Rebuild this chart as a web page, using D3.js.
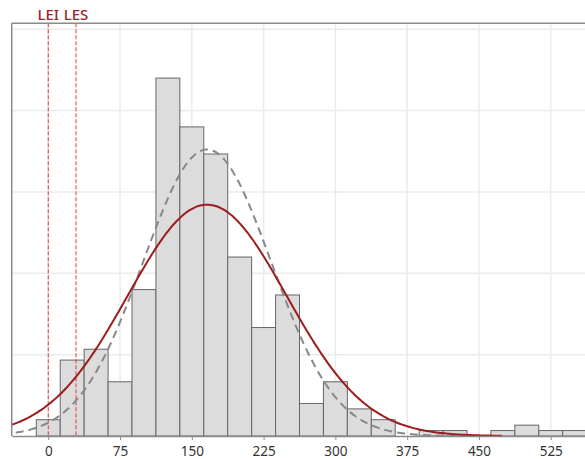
<!DOCTYPE html>
<html>
<head>
    <title>Capability histogram</title>
    <script src="https://d3js.org/d3.v7.min.js"></script>
    <style>
        body { margin: 0; background: #fff; }
        #chart { display: block; }
    </style>
</head>
<body>
    <svg id="chart"></svg>
    <script>
        // bins are 25 wide, first one centred on 0
        const binStart = -12.5;
        const binWidth = 25;
        const counts = [3, 14, 16, 10, 27, 66, 57, 52, 33, 20, 26, 6, 10, 5, 3, 0, 1, 1, 0, 1, 2, 1, 1];

        // spec limits
        const specNames = ["LEI", "LES"];
        const specValues = [0, 29];

        // fitted normals
        const fitMean = 166;
        const sigmaOverall = 83;
        const sigmaWithin = 67;

        const xTicks = [0, 75, 150, 225, 300, 375, 450, 525];
        const yGrid = [15, 30, 45, 60, 75];

        const width = 585;
        const height = 459;

        const svg = d3.select("#chart")
            .attr("width", width)
            .attr("height", height)
            .style("font-family", "'Noto Sans', 'Open Sans', sans-serif");

        const x = d3.scaleLinear().domain([-38.2, 560.8]).range([11.7, 585]);
        const y = d3.scaleLinear().domain([0, 76.1]).range([436, 23.3]);

        const bins = counts.map((c, i) => ({ x0: binStart + i * binWidth, x1: binStart + (i + 1) * binWidth, n: c }));
        const total = d3.sum(counts);

        // gridlines
        svg.append("g")
            .selectAll("line")
            .data(xTicks)
            .join("line")
            .attr("x1", d => x(d)).attr("x2", d => x(d))
            .attr("y1", y.range()[1]).attr("y2", y.range()[0])
            .attr("stroke", "#ebebeb")
            .attr("stroke-width", 1.5);

        svg.append("g")
            .selectAll("line")
            .data(yGrid)
            .join("line")
            .attr("x1", x.range()[0]).attr("x2", width)
            .attr("y1", d => y(d)).attr("y2", d => y(d))
            .attr("stroke", "#ebebeb")
            .attr("stroke-width", 1.5);

        // histogram bars
        svg.append("g")
            .selectAll("rect")
            .data(bins.filter(b => b.n > 0))
            .join("rect")
            .attr("x", d => x(d.x0))
            .attr("width", d => x(d.x1) - x(d.x0))
            .attr("y", d => y(d.n))
            .attr("height", d => y(0) - y(d.n))
            .attr("fill", "#dcdcdc")
            .attr("stroke", "#666")
            .attr("stroke-width", 1);

        // spec limit lines + labels
        const spec = svg.append("g")
            .selectAll("g")
            .data(specNames.map((s, i) => ({ name: s, value: specValues[i] })))
            .join("g");

        spec.append("line")
            .attr("x1", d => x(d.value)).attr("x2", d => x(d.value))
            .attr("y1", y.range()[1]).attr("y2", y(0))
            .attr("stroke", "#e0393e")
            .attr("stroke-width", 1)
            .attr("stroke-dasharray", "4,2");

        spec.append("text")
            .attr("x", d => x(d.value))
            .attr("y", 20)
            .attr("text-anchor", "middle")
            .attr("fill", "#a3222c")
            .attr("font-size", 15)
            .attr("font-weight", 500)
            .text(d => d.name);

        // normal curves scaled to counts
        function normalCurve(sigma, from, to) {
            const scale = total * binWidth / (sigma * Math.sqrt(2 * Math.PI));
            return d3.range(from, to + 0.01, 2).map(v => [v, scale * Math.exp(-0.5 * ((v - fitMean) / sigma) ** 2)]);
        }

        const line = d3.line()
            .x(d => x(d[0]))
            .y(d => y(d[1]))
            .curve(d3.curveBasis);

        svg.append("path")
            .datum(normalCurve(sigmaWithin, -34, 474))
            .attr("d", line)
            .attr("fill", "none")
            .attr("stroke", "#888")
            .attr("stroke-width", 2)
            .attr("stroke-dasharray", "8,5");

        svg.append("path")
            .datum(normalCurve(sigmaOverall, -38.2, 474))
            .attr("d", line)
            .attr("fill", "none")
            .attr("stroke", "#9c1c20")
            .attr("stroke-width", 2);

        // frame: top, left, bottom axis
        const frame = svg.append("g").attr("stroke", "#8a8a8a").attr("stroke-width", 1.5);
        frame.append("line").attr("x1", x.range()[0]).attr("x2", width).attr("y1", y.range()[1]).attr("y2", y.range()[1]);
        frame.append("line").attr("x1", x.range()[0]).attr("x2", x.range()[0]).attr("y1", y.range()[1]).attr("y2", y(0));

        const xAxis = svg.append("g")
            .attr("transform", `translate(0,${y(0)})`)
            .call(d3.axisBottom(x).tickValues(xTicks).tickSize(4).tickSizeOuter(0).tickPadding(6));

        xAxis.select(".domain").attr("stroke", "#8a8a8a").attr("stroke-width", 1.5);
        xAxis.selectAll(".tick line").attr("stroke", "#8a8a8a");
        xAxis.selectAll(".tick text")
            .attr("fill", "#333")
            .attr("font-size", 13.5)
            .style("font-family", "'Noto Sans', 'Open Sans', sans-serif");
    </script>
</body>
</html>
